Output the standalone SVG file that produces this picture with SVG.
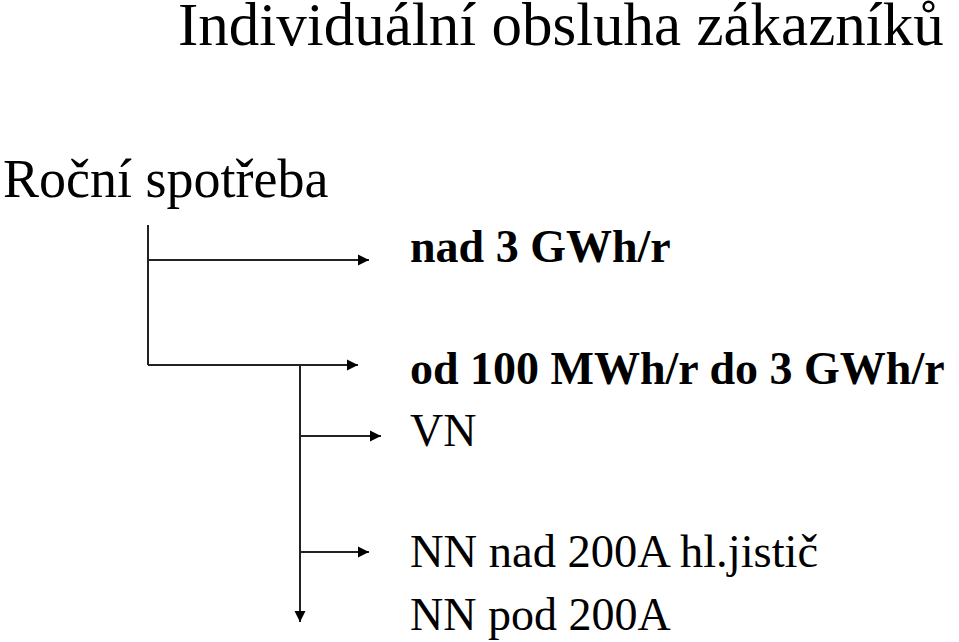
<svg xmlns="http://www.w3.org/2000/svg" width="959" height="642" viewBox="0 0 959 642">
<defs>
<marker id="ah" markerWidth="12" markerHeight="12" refX="11" refY="6" orient="auto" markerUnits="userSpaceOnUse">
<path d="M0,0.5 L11,6 L0,11.5 Z" fill="#000"/>
</marker>
<style>
.t{font-family:"Liberation Serif","Times New Roman",serif;fill:#000}
.b{font-weight:bold}
.c{stroke:#222;stroke-width:2;fill:none}
</style>
</defs>
<rect width="959" height="642" fill="#fff"/>
<g id="title"><text class="t" x="178" y="45" font-size="61">Individuální obsluha zákazníků</text></g>
<g id="root"><text class="t" x="3" y="197" font-size="54">Roční spotřeba</text></g>
<g id="n1"><text class="t b" x="410" y="262" font-size="46">nad 3 GWh/r</text></g>
<g id="n2"><text class="t b" x="410" y="384" font-size="46">od 100 MWh/r do 3 GWh/r</text></g>
<g id="n3"><text class="t" x="410" y="446" font-size="46">VN</text></g>
<g id="n4"><text class="t" x="410" y="567" font-size="46.5">NN nad 200A hl.jistič</text></g>
<g id="n5"><text class="t" x="410" y="630" font-size="46">NN pod 200A</text></g>
<g id="connectors">
<path class="c" d="M148,225 V365"/>
<path class="c" d="M148,260 H369" marker-end="url(#ah)"/>
<path class="c" d="M148,365 H358" marker-end="url(#ah)"/>
<path class="c" d="M300,365 V622" marker-end="url(#ah)"/>
<path class="c" d="M300,436 H381" marker-end="url(#ah)"/>
<path class="c" d="M300,552 H369" marker-end="url(#ah)"/>
</g>
</svg>
